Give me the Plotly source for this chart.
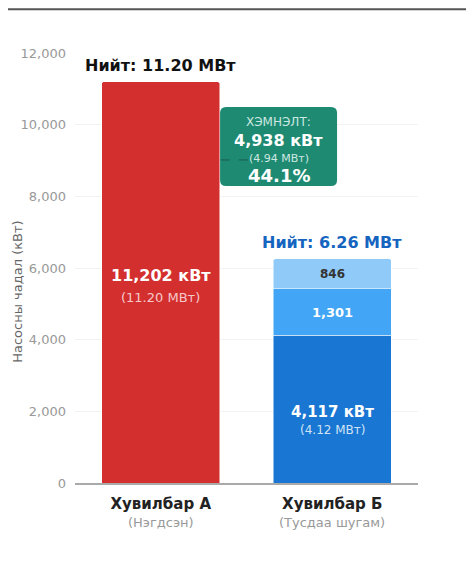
import plotly.graph_objects as go

# 数据
categories = ["Хувилбар А", "Хувилбар Б"]
subtitles = ["(Нэгдсэн)", "(Тусдаа шугам)"]
a_value = 11202
b_parts = [4117, 1301, 846]
b_colors = ["#1976d2", "#42a5f5", "#90caf9"]
y_ticks = [0, 2000, 4000, 6000, 8000, 10000, 12000]

b_total = sum(b_parts)
savings = a_value - b_total
savings_pct = savings / a_value * 100

FONT = "DejaVu Sans"

fig = go.Figure()
fig.add_trace(go.Bar(
    x=[categories[0]], y=[a_value], marker_color="#d32f2f",
    width=0.69, showlegend=False, hoverinfo="skip"
))
for v, c in zip(b_parts, b_colors):
    fig.add_trace(go.Bar(
        x=[categories[1]], y=[v], marker_color=c,
        width=0.69, showlegend=False, hoverinfo="skip"
    ))

ann = []
# 总计标签
ann.append(dict(x=categories[0], y=a_value, yshift=16, showarrow=False,
                text=f"<b>Нийт: {a_value/1000:.2f} МВт</b>",
                font=dict(size=16, color="#111")))
ann.append(dict(x=categories[1], y=b_total, yshift=16, showarrow=False,
                text=f"<b>Нийт: {b_total/1000:.2f} МВт</b>",
                font=dict(size=16, color="#1565c0")))
# 柱内标签
ann.append(dict(x=categories[0], y=a_value / 2, yshift=7, showarrow=False,
                text=f"<b>{a_value:,} кВт</b>", font=dict(size=16, color="white")))
ann.append(dict(x=categories[0], y=a_value / 2, yshift=-15, showarrow=False,
                text=f"({a_value/1000:.2f} МВт)", font=dict(size=13, color="#f6c9c9")))
ann.append(dict(x=categories[1], y=b_parts[0] / 2, yshift=-3, showarrow=False,
                text=f"<b>{b_parts[0]:,} кВт</b>", font=dict(size=15, color="white")))
ann.append(dict(x=categories[1], y=b_parts[0] / 2, yshift=-21, showarrow=False,
                text=f"({b_parts[0]/1000:.2f} МВт)", font=dict(size=12, color="#cfe3f7")))
ann.append(dict(x=categories[1], y=b_parts[0] + b_parts[1] / 2, showarrow=False,
                text=f"<b>{b_parts[1]:,}</b>", font=dict(size=13, color="white")))
ann.append(dict(x=categories[1], y=b_parts[0] + b_parts[1] + b_parts[2] / 2, showarrow=False,
                text=f"<b>{b_parts[2]:,}</b>", font=dict(size=12, color="#333")))

# 节省框
box_x, box_y = 0.687, 9391
ann.append(dict(x=box_x, y=box_y, xref="x", yref="y", yshift=24, showarrow=False,
                text="ХЭМНЭЛТ:", font=dict(size=12, color="#cde8e0")))
ann.append(dict(x=box_x, y=box_y, xref="x", yref="y", yshift=6, showarrow=False,
                text=f"<b>{savings:,} кВт</b>", font=dict(size=16, color="white")))
ann.append(dict(x=box_x, y=box_y, xref="x", yref="y", yshift=-12, showarrow=False,
                text=f"({savings/1000:.2f} МВт)", font=dict(size=11, color="#cde8e0")))
ann.append(dict(x=box_x, y=box_y, xref="x", yref="y", yshift=-29, showarrow=False,
                text=f"<b>{savings_pct:.1f}%</b>", font=dict(size=18, color="white")))

# 类别副标题
for c, s in zip(categories, subtitles):
    ann.append(dict(x=c, y=-0.0907, xref="x", yref="paper", showarrow=False,
                    yanchor="middle", text=s, font=dict(size=13, color="#999")))

# y轴标题
ann.append(dict(x=-0.17, y=0.444, xref="paper", yref="paper", showarrow=False,
                xanchor="center", yanchor="middle",
                text="Насосны чадал (кВт)", textangle=-90,
                font=dict(size=13, color="#666")))

w, h, r = 58.5, 39.5, 6
box_path = (f"M {-w+r},{-h} L {w-r},{-h} Q {w},{-h} {w},{-h+r} "
            f"L {w},{h-r} Q {w},{h} {w-r},{h} L {-w+r},{h} Q {-w},{h} {-w},{h-r} "
            f"L {-w},{-h+r} Q {-w},{-h} {-w+r},{-h} Z")

shapes = [
    dict(type="line", xref="paper", yref="paper", x0=-0.2, x1=1.3, y0=1.102, y1=1.102,
         line=dict(color="#555", width=2)),
    dict(type="path", xref="x", yref="y", xsizemode="pixel", ysizemode="pixel",
         xanchor=box_x, yanchor=box_y, path=box_path,
         fillcolor="#1e8a72", line=dict(width=0)),
    dict(type="line", xref="x", yref="y", x0=0.35, x1=0.51, y0=9015, y1=9015,
         line=dict(color="#1a5c4c", width=1, dash="dash")),
]

ticktext = [f"<b>{c}</b>" for c in categories]

fig.update_layout(
    width=474, height=565,
    barmode="stack",
    barcornerradius=3,
    template="plotly_white",
    font=dict(family=FONT),
    margin=dict(l=62, r=64, t=45, b=90),
    paper_bgcolor="white", plot_bgcolor="white",
    annotations=ann, shapes=shapes,
    xaxis=dict(tickvals=categories, ticktext=ticktext, range=[-0.5, 1.5],
               tickfont=dict(size=15, color="#222"), showgrid=False,
               showline=True, linecolor="#aaa", linewidth=2,
               ticklabelstandoff=6),
    yaxis=dict(range=[0, 12000], tickvals=y_ticks, tickformat=",",
               tickfont=dict(size=13, color="#999"), gridcolor="#f2f2f2",
               zeroline=False, ticklabelstandoff=8),
)

fig.write_html("out.html")
